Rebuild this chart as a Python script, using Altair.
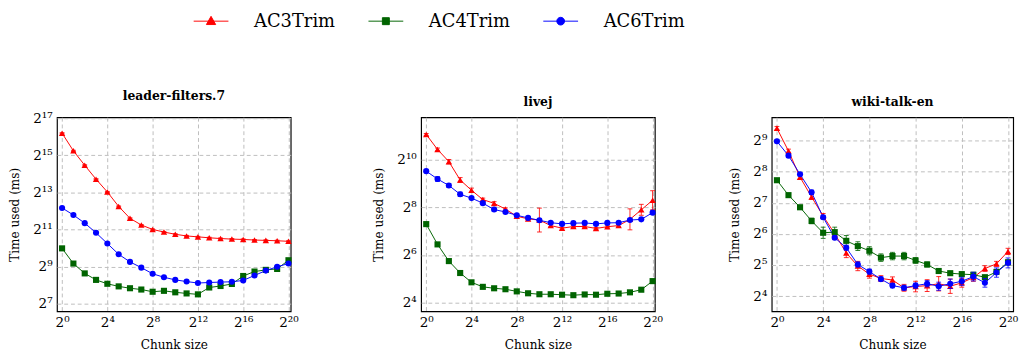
import altair as alt
import pandas as pd

series = ["AC3Trim", "AC4Trim", "AC6Trim"]
colors = ["#ff0000", "#006400", "#0000ff"]
marker_shapes = ["triangle-up", "square", "circle"]
chunk_exp = list(range(21))  # chunk size = 2^k

# ---- log2(time used in ms) ----
lf_ac3 = [16.19, 15.24, 14.46, 13.71, 13.02, 12.24, 11.60, 11.24, 11.00, 10.86, 10.74,
          10.65, 10.60, 10.55, 10.51, 10.48, 10.46, 10.43, 10.41, 10.39, 10.36]
lf_ac4 = [9.98, 9.16, 8.63, 8.28, 8.07, 7.93, 7.83, 7.76, 7.64, 7.69, 7.61,
          7.55, 7.50, 7.87, 7.95, 8.06, 8.49, 8.73, 8.82, 8.87, 9.34]
lf_ac6 = [12.16, 11.78, 11.34, 10.82, 10.24, 9.66, 9.25, 8.94, 8.61, 8.42, 8.28,
          8.19, 8.11, 8.14, 8.16, 8.18, 8.25, 8.52, 8.78, 8.99, 9.16]
lf_err3 = [0.03] * 21
lf_err4 = [0.03] * 21
lf_err6 = [0.03] * 21

lj_ac3 = [11.06, 10.43, 9.92, 9.15, 8.72, 8.33, 8.17, 7.93, 7.63, 7.52, 7.47,
          7.24, 7.13, 7.20, 7.20, 7.12, 7.19, 7.24, 7.50, 7.90, 8.30]
lj_ac4 = [7.30, 6.45, 5.75, 5.25, 4.86, 4.67, 4.61, 4.57, 4.48, 4.40, 4.36,
          4.36, 4.34, 4.32, 4.35, 4.34, 4.38, 4.39, 4.44, 4.55, 4.91]
lj_ac6 = [9.52, 9.19, 8.92, 8.55, 8.39, 8.18, 7.91, 7.81, 7.67, 7.56, 7.46,
          7.36, 7.31, 7.34, 7.35, 7.31, 7.35, 7.36, 7.47, 7.50, 7.78]
lj_err3 = [0.04, 0.06, 0.09, 0.10, 0.09, 0.06, 0.07, 0.05, 0.04, 0.04, 0.50,
           0.05, 0.04, 0.04, 0.04, 0.04, 0.04, 0.05, 0.44, 0.23, 0.40]
lj_err4 = [0.06, 0.05, 0.05, 0.05, 0.05, 0.05, 0.05, 0.05, 0.05, 0.05, 0.05,
           0.05, 0.05, 0.05, 0.05, 0.05, 0.05, 0.05, 0.05, 0.05, 0.05]
lj_err6 = [0.06, 0.10, 0.08, 0.09, 0.05, 0.05, 0.06, 0.05, 0.05, 0.05, 0.05,
           0.04, 0.04, 0.04, 0.04, 0.04, 0.04, 0.04, 0.05, 0.05, 0.06]

wt_ac3 = [9.40, 8.67, 7.83, 7.19, 6.58, 6.01, 5.39, 4.97, 4.71, 4.57, 4.52,
          4.27, 4.31, 4.34, 4.40, 4.32, 4.43, 4.60, 4.89, 5.04, 5.44]
wt_ac4 = [7.73, 7.25, 6.86, 6.42, 6.04, 6.06, 5.78, 5.61, 5.46, 5.24, 5.29,
          5.29, 5.15, 5.02, 4.81, 4.74, 4.71, 4.69, 4.61, 4.78, 5.09]
wt_ac6 = [8.98, 8.52, 7.92, 7.34, 6.54, 5.88, 5.56, 5.02, 4.79, 4.55, 4.34,
          4.27, 4.34, 4.40, 4.32, 4.40, 4.48, 4.63, 4.43, 4.76, 5.07]
wt_err3 = [0.06, 0.06, 0.07, 0.08, 0.08, 0.09, 0.15, 0.15, 0.13, 0.09, 0.10,
           0.11, 0.17, 0.19, 0.23, 0.23, 0.14, 0.12, 0.09, 0.08, 0.10]
wt_err4 = [0.05, 0.05, 0.06, 0.09, 0.18, 0.16, 0.17, 0.14, 0.13, 0.12, 0.12,
           0.12, 0.09, 0.08, 0.06, 0.05, 0.05, 0.06, 0.06, 0.07, 0.07]
wt_err6 = [0.05, 0.06, 0.05, 0.07, 0.06, 0.06, 0.08, 0.08, 0.08, 0.07, 0.07,
           0.08, 0.08, 0.10, 0.13, 0.15, 0.13, 0.14, 0.14, 0.15, 0.16]

panels = [
    ("leader-filters.7", [lf_ac3, lf_ac4, lf_ac6], [lf_err3, lf_err4, lf_err6],
     [6.58, 17.05], [7, 9, 11, 13, 15, 17], [-0.45, 20.2], 242),
    ("livej", [lj_ac3, lj_ac4, lj_ac6], [lj_err3, lj_err4, lj_err6],
     [3.64, 11.78], [4, 6, 8, 10], [-0.45, 20.2], 242),
    ("wiki-talk-en", [wt_ac3, wt_ac4, wt_ac6], [wt_err3, wt_err4, wt_err6],
     [3.51, 9.755], [4, 5, 6, 7, 8, 9], [-0.45, 20.45], 250),
]
x_ticks = [0, 4, 8, 12, 16, 20]

SUP = str.maketrans("0123456789", "⁰¹²³⁴⁵⁶⁷⁸⁹")


def pow_label_expr(vals):
    expr = "''"
    for v in reversed(vals):
        expr = f"datum.value == {v} ? '2{str(v).translate(SUP)}' : " + expr
    return expr


FONT = "DejaVu Serif"
PLOT_H = 201

# legend symbols: a short line with the marker on it
leg_paths = [
    "M-1.8,0H1.8M0,-0.5L0.48,0.35L-0.48,0.35Z",
    "M-1.8,0H1.8M-0.36,-0.36H0.36V0.36H-0.36Z",
    "M-1.8,0H1.8M0.4,0A0.4,0.4 0 1,1 -0.4,0A0.4,0.4 0 1,1 0.4,0Z",
]

color_scale = alt.Scale(domain=series, range=colors)


def make_panel(title, vals, errs, ydom, yticks, xdom, width, with_legend):
    rows = []
    for s, v, e in zip(series, vals, errs):
        for k, t, er in zip(chunk_exp, v, e):
            rows.append({"series": s, "k": k, "t": t, "lo": t - er, "hi": t + er})
    df = pd.DataFrame(rows)
    base = alt.Chart(df)

    x_enc = alt.X("k:Q", scale=alt.Scale(domain=xdom, nice=False, zero=False),
                  axis=alt.Axis(values=x_ticks, labelExpr=pow_label_expr(x_ticks),
                                title="Chunk size", grid=True, gridDash=[4, 3],
                                gridColor="#bdbdbd", ticks=False, domain=False,
                                labelFont=FONT, labelFontSize=14, labelColor="#000",
                                labelPadding=5, titleFont=FONT, titleFontSize=12.5,
                                titleFontWeight="normal", titleColor="#000",
                                titlePadding=9))
    y_enc = alt.Y("t:Q", scale=alt.Scale(domain=ydom, nice=False, zero=False),
                  axis=alt.Axis(values=yticks, labelExpr=pow_label_expr(yticks),
                                title="Time used (ms)", grid=True, gridDash=[4, 3],
                                gridColor="#bdbdbd", ticks=False, domain=False,
                                labelFont=FONT, labelFontSize=14, labelColor="#000",
                                labelPadding=5, titleFont=FONT, titleFontSize=12.5,
                                titleFontWeight="normal", titleColor="#000",
                                titlePadding=12))
    col = alt.Color("series:N", scale=color_scale, legend=None)

    layers = []
    if with_legend:
        leg = alt.Legend(orient="none", legendX=149, legendY=-110, direction="horizontal",
                         columns=3, title=None, symbolSize=400, symbolStrokeWidth=1,
                         symbolOpacity=1, labelFont=FONT, labelFontSize=18.5,
                         labelColor="#000", labelOffset=34, columnPadding=32,
                         labelLimit=0)
        layers.append(
            base.transform_filter("false").mark_point(filled=True).encode(
                x=alt.X("k:Q"), y=alt.Y("t:Q"),
                color=alt.Color("series:N", scale=color_scale, legend=leg),
                stroke=alt.Stroke("series:N", scale=alt.Scale(domain=series, range=colors),
                                  legend=leg),
                shape=alt.Shape("series:N", scale=alt.Scale(domain=series, range=leg_paths),
                                legend=leg),
            )
        )
    layers.append(base.mark_line(strokeWidth=1, clip=True).encode(x=x_enc, y=y_enc, color=col))
    for s, shp, c in zip(series, marker_shapes, colors):
        sub = base.transform_filter(alt.datum.series == s)
        layers.append(sub.mark_rule(strokeWidth=1, color=c, opacity=0.85).encode(
            x="k:Q", y="lo:Q", y2="hi:Q"))
        layers.append(sub.mark_tick(orient="horizontal", size=5, thickness=1, color=c,
                                    opacity=0.85).encode(x="k:Q", y="lo:Q"))
        layers.append(sub.mark_tick(orient="horizontal", size=5, thickness=1, color=c,
                                    opacity=0.85).encode(x="k:Q", y="hi:Q"))
        size = 40 if shp == "circle" else (40 if shp == "square" else 44)
        layers.append(sub.mark_point(shape=shp, filled=True, size=size, opacity=1,
                                     color=c).encode(x="k:Q", y="t:Q"))

    return alt.layer(*layers).properties(
        width=width, height=PLOT_H,
        title=alt.TitleParams(title, font=FONT, fontSize=12.8, fontWeight="bold",
                              color="#000", offset=9, frame="group"),
    )


charts = []
for i, (title, vals, errs, ydom, yticks, xdom, w) in enumerate(panels):
    charts.append(make_panel(title, vals, errs, ydom, yticks, xdom, w, i == 0))

right_pair = alt.hconcat(charts[1], charts[2], spacing=66)
chart = alt.hconcat(charts[0], right_pair, spacing=75).configure_view(
    stroke="#000", strokeWidth=1.2
).properties(padding={"left": 8, "top": 5, "right": 0, "bottom": 5}, background="white")

chart.save("out.html", embed_options={"renderer": "svg", "actions": False})
